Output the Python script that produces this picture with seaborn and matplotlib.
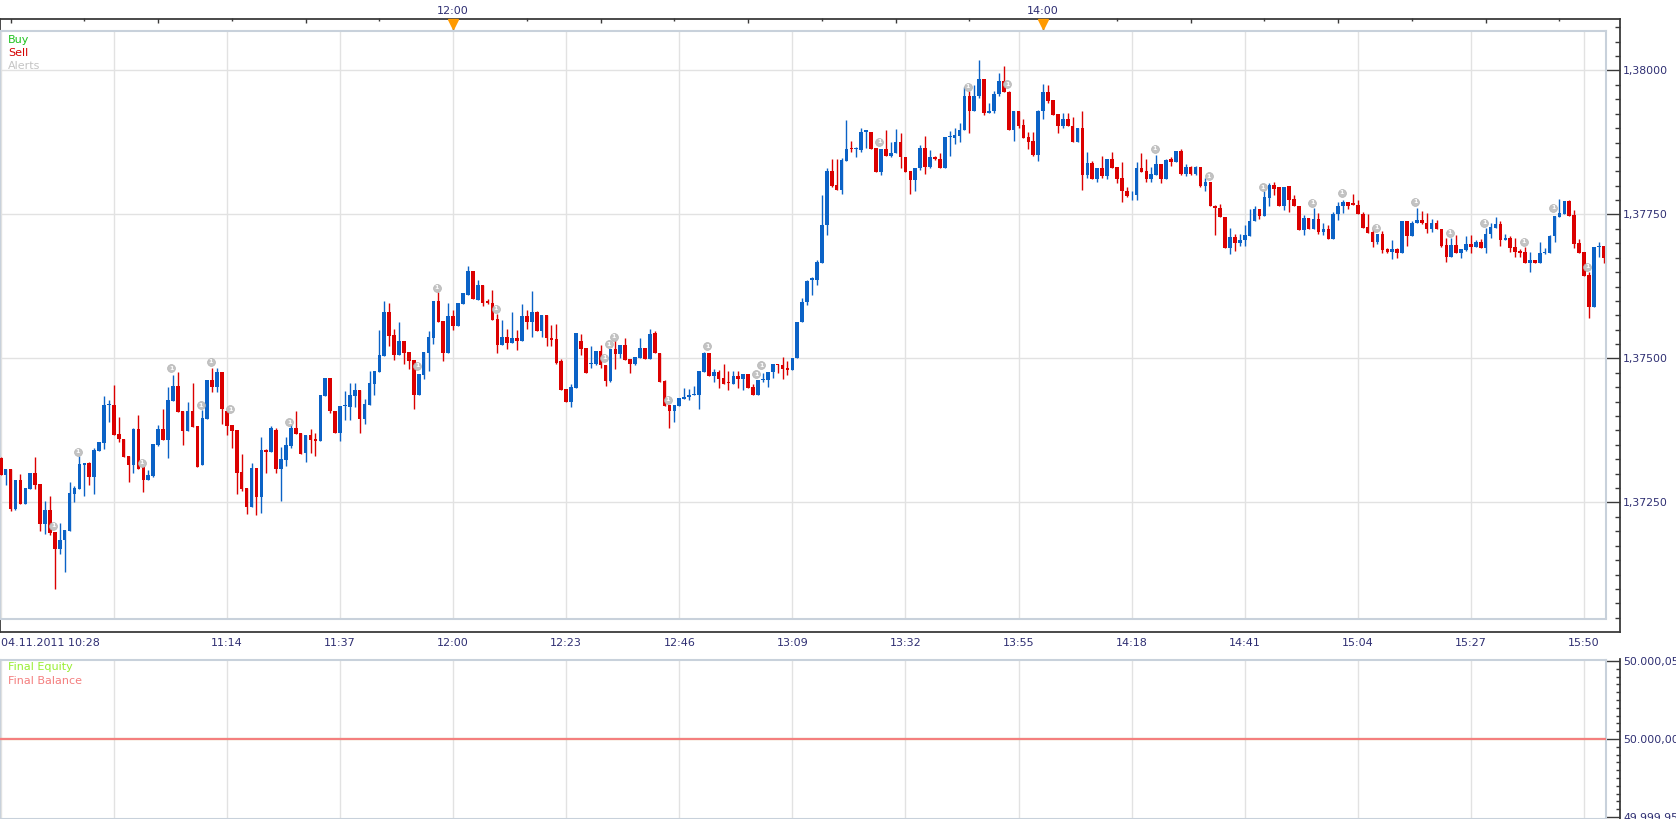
import numpy as np
import pandas as pd
import seaborn as sns
import matplotlib
matplotlib.use("Agg")
import matplotlib.pyplot as plt
from matplotlib.ticker import MultipleLocator, FixedLocator, FuncFormatter
import matplotlib.transforms as mtransforms

# 1 minute bars, 04.11.2011 10:28 -> 15:54 (one bar per minute)
opens = [
    1.37327, 1.37298, 1.37308, 1.37238, 1.37289, 1.37248, 1.37274, 1.37301, 1.37282, 1.37213,
    1.37237, 1.37199, 1.37169, 1.37185, 1.37200, 1.37264, 1.37274, 1.37315, 1.37319, 1.37295,
    1.37340, 1.37354, 1.37419, 1.37419, 1.37369, 1.37361, 1.37330, 1.37315, 1.37378, 1.37311,
    1.37289, 1.37296, 1.37350, 1.37377, 1.37358, 1.37427, 1.37452, 1.37409, 1.37374, 1.37409,
    1.37383, 1.37315, 1.37395, 1.37462, 1.37451, 1.37476, 1.37409, 1.37385, 1.37375, 1.37303,
    1.37275, 1.37243, 1.37310, 1.37260, 1.37341, 1.37337, 1.37375, 1.37308, 1.37324, 1.37348,
    1.37380, 1.37371, 1.37336, 1.37367, 1.37360, 1.37356, 1.37435, 1.37467, 1.37409, 1.37371,
    1.37418, 1.37416, 1.37435, 1.37445, 1.37395, 1.37420, 1.37456, 1.37477, 1.37505, 1.37580,
    1.37541, 1.37506, 1.37530, 1.37511, 1.37497, 1.37437, 1.37472, 1.37510, 1.37536, 1.37600,
    1.37565, 1.37510, 1.37574, 1.37557, 1.37594, 1.37611, 1.37652, 1.37602, 1.37628, 1.37599,
    1.37597, 1.37568, 1.37523, 1.37537, 1.37527, 1.37535, 1.37531, 1.37574, 1.37564, 1.37581,
    1.37548, 1.37576, 1.37535, 1.37534, 1.37495, 1.37447, 1.37425, 1.37449, 1.37530, 1.37519,
    1.37490, 1.37490, 1.37513, 1.37489, 1.37461, 1.37516, 1.37508, 1.37523, 1.37499, 1.37491,
    1.37501, 1.37518, 1.37499, 1.37544, 1.37509, 1.37461, 1.37419, 1.37409, 1.37418, 1.37430,
    1.37434, 1.37436, 1.37437, 1.37477, 1.37510, 1.37470, 1.37477, 1.37466, 1.37460, 1.37456,
    1.37470, 1.37465, 1.37473, 1.37450, 1.37437, 1.37462, 1.37463, 1.37476, 1.37491, 1.37489,
    1.37483, 1.37480, 1.37500, 1.37563, 1.37598, 1.37636, 1.37636, 1.37666, 1.37731, 1.37826,
    1.37801, 1.37793, 1.37843, 1.37865, 1.37864, 1.37862, 1.37894, 1.37894, 1.37866, 1.37823,
    1.37864, 1.37852, 1.37856, 1.37876, 1.37849, 1.37826, 1.37810, 1.37830, 1.37866, 1.37833,
    1.37849, 1.37846, 1.37830, 1.37885, 1.37883, 1.37886, 1.37896, 1.37956, 1.37930, 1.37955,
    1.37985, 1.37926, 1.37929, 1.37959, 1.37982, 1.37963, 1.37896, 1.37930, 1.37905, 1.37884,
    1.37878, 1.37853, 1.37929, 1.37962, 1.37949, 1.37924, 1.37904, 1.37916, 1.37904, 1.37875,
    1.37901, 1.37818, 1.37839, 1.37812, 1.37830, 1.37816, 1.37847, 1.37832, 1.37813, 1.37791,
    1.37785, 1.37783, 1.37831, 1.37825, 1.37812, 1.37818, 1.37838, 1.37812, 1.37846, 1.37842,
    1.37861, 1.37820, 1.37832, 1.37820, 1.37832, 1.37800, 1.37807, 1.37765, 1.37762, 1.37746,
    1.37692, 1.37711, 1.37701, 1.37705, 1.37713, 1.37738, 1.37760, 1.37748, 1.37779, 1.37801,
    1.37798, 1.37765, 1.37799, 1.37777, 1.37765, 1.37723, 1.37744, 1.37725, 1.37742, 1.37720,
    1.37725, 1.37707, 1.37750, 1.37764, 1.37771, 1.37770, 1.37767, 1.37750, 1.37729, 1.37720,
    1.37703, 1.37716, 1.37690, 1.37685, 1.37690, 1.37683, 1.37738, 1.37713, 1.37735, 1.37740,
    1.37735, 1.37725, 1.37735, 1.37725, 1.37697, 1.37677, 1.37697, 1.37684, 1.37688, 1.37698,
    1.37694, 1.37702, 1.37692, 1.37716, 1.37727, 1.37734, 1.37705, 1.37710, 1.37693, 1.37687,
    1.37685, 1.37666, 1.37671, 1.37666, 1.37683, 1.37684, 1.37712, 1.37746, 1.37751, 1.37773,
    1.37749, 1.37700, 1.37685, 1.37645, 1.37590, 1.37693, 1.37695,
]
highs = [
    1.37329, 1.37308, 1.37308, 1.37289, 1.37299, 1.37275, 1.37301, 1.37329, 1.37282, 1.37253,
    1.37262, 1.37199, 1.37214, 1.37202, 1.37285, 1.37279, 1.37330, 1.37319, 1.37321, 1.37345,
    1.37355, 1.37435, 1.37428, 1.37454, 1.37399, 1.37361, 1.37330, 1.37380, 1.37402, 1.37311,
    1.37306, 1.37351, 1.37385, 1.37412, 1.37450, 1.37472, 1.37477, 1.37409, 1.37425, 1.37457,
    1.37383, 1.37410, 1.37462, 1.37484, 1.37484, 1.37476, 1.37409, 1.37385, 1.37375, 1.37334,
    1.37275, 1.37318, 1.37310, 1.37364, 1.37343, 1.37383, 1.37379, 1.37346, 1.37364, 1.37387,
    1.37409, 1.37371, 1.37367, 1.37378, 1.37370, 1.37437, 1.37467, 1.37467, 1.37409, 1.37418,
    1.37444, 1.37457, 1.37458, 1.37445, 1.37429, 1.37478, 1.37478, 1.37550, 1.37600, 1.37597,
    1.37551, 1.37563, 1.37530, 1.37511, 1.37497, 1.37473, 1.37511, 1.37548, 1.37600, 1.37615,
    1.37565, 1.37597, 1.37584, 1.37596, 1.37613, 1.37661, 1.37652, 1.37637, 1.37628, 1.37603,
    1.37619, 1.37577, 1.37567, 1.37552, 1.37581, 1.37549, 1.37594, 1.37584, 1.37617, 1.37583,
    1.37575, 1.37576, 1.37559, 1.37560, 1.37499, 1.37447, 1.37456, 1.37544, 1.37543, 1.37519,
    1.37522, 1.37513, 1.37524, 1.37489, 1.37516, 1.37536, 1.37523, 1.37535, 1.37499, 1.37502,
    1.37535, 1.37518, 1.37551, 1.37547, 1.37509, 1.37463, 1.37419, 1.37419, 1.37431, 1.37448,
    1.37447, 1.37452, 1.37478, 1.37512, 1.37510, 1.37481, 1.37480, 1.37491, 1.37478, 1.37478,
    1.37478, 1.37473, 1.37473, 1.37456, 1.37463, 1.37474, 1.37477, 1.37491, 1.37491, 1.37503,
    1.37496, 1.37500, 1.37564, 1.37605, 1.37637, 1.37642, 1.37671, 1.37784, 1.37831, 1.37846,
    1.37846, 1.37848, 1.37914, 1.37878, 1.37868, 1.37900, 1.37897, 1.37894, 1.37866, 1.37864,
    1.37897, 1.37876, 1.37898, 1.37891, 1.37849, 1.37826, 1.37831, 1.37871, 1.37886, 1.37862,
    1.37852, 1.37856, 1.37884, 1.37895, 1.37901, 1.37908, 1.37972, 1.37964, 1.37974, 1.38018,
    1.37985, 1.37944, 1.37965, 1.37995, 1.38007, 1.37965, 1.37930, 1.37930, 1.37916, 1.37894,
    1.37894, 1.37931, 1.37977, 1.37975, 1.37949, 1.37924, 1.37926, 1.37927, 1.37919, 1.37900,
    1.37930, 1.37858, 1.37843, 1.37830, 1.37852, 1.37847, 1.37858, 1.37832, 1.37842, 1.37798,
    1.37790, 1.37842, 1.37856, 1.37846, 1.37833, 1.37853, 1.37838, 1.37847, 1.37849, 1.37861,
    1.37864, 1.37838, 1.37834, 1.37834, 1.37832, 1.37813, 1.37807, 1.37767, 1.37769, 1.37746,
    1.37727, 1.37717, 1.37716, 1.37731, 1.37760, 1.37764, 1.37760, 1.37790, 1.37805, 1.37807,
    1.37798, 1.37798, 1.37799, 1.37784, 1.37765, 1.37749, 1.37744, 1.37762, 1.37753, 1.37735,
    1.37732, 1.37755, 1.37772, 1.37776, 1.37771, 1.37786, 1.37776, 1.37754, 1.37750, 1.37726,
    1.37716, 1.37721, 1.37692, 1.37706, 1.37692, 1.37738, 1.37738, 1.37739, 1.37761, 1.37756,
    1.37752, 1.37743, 1.37740, 1.37725, 1.37709, 1.37710, 1.37714, 1.37690, 1.37713, 1.37714,
    1.37705, 1.37707, 1.37727, 1.37736, 1.37746, 1.37739, 1.37716, 1.37712, 1.37710, 1.37690,
    1.37693, 1.37685, 1.37671, 1.37703, 1.37691, 1.37714, 1.37748, 1.37777, 1.37773, 1.37775,
    1.37758, 1.37707, 1.37685, 1.37651, 1.37693, 1.37703, 1.37695,
]
lows = [
    1.37297, 1.37281, 1.37236, 1.37237, 1.37248, 1.37247, 1.37273, 1.37274, 1.37201, 1.37195,
    1.37194, 1.37099, 1.37160, 1.37130, 1.37200, 1.37251, 1.37274, 1.37261, 1.37281, 1.37264,
    1.37340, 1.37343, 1.37389, 1.37367, 1.37355, 1.37329, 1.37286, 1.37302, 1.37308, 1.37268,
    1.37289, 1.37295, 1.37348, 1.37358, 1.37327, 1.37427, 1.37407, 1.37350, 1.37374, 1.37381,
    1.37311, 1.37315, 1.37395, 1.37441, 1.37441, 1.37386, 1.37367, 1.37344, 1.37264, 1.37270,
    1.37230, 1.37243, 1.37229, 1.37232, 1.37301, 1.37337, 1.37302, 1.37253, 1.37314, 1.37345,
    1.37369, 1.37335, 1.37321, 1.37336, 1.37330, 1.37356, 1.37435, 1.37406, 1.37371, 1.37356,
    1.37394, 1.37394, 1.37416, 1.37371, 1.37387, 1.37420, 1.37437, 1.37477, 1.37505, 1.37522,
    1.37497, 1.37506, 1.37490, 1.37482, 1.37412, 1.37437, 1.37464, 1.37479, 1.37525, 1.37564,
    1.37496, 1.37510, 1.37549, 1.37557, 1.37594, 1.37611, 1.37603, 1.37602, 1.37592, 1.37594,
    1.37567, 1.37510, 1.37523, 1.37516, 1.37527, 1.37515, 1.37531, 1.37551, 1.37538, 1.37548,
    1.37538, 1.37521, 1.37521, 1.37490, 1.37445, 1.37425, 1.37415, 1.37449, 1.37506, 1.37475,
    1.37483, 1.37489, 1.37483, 1.37453, 1.37460, 1.37482, 1.37500, 1.37497, 1.37475, 1.37489,
    1.37500, 1.37499, 1.37499, 1.37509, 1.37460, 1.37418, 1.37380, 1.37390, 1.37418, 1.37430,
    1.37428, 1.37436, 1.37412, 1.37477, 1.37470, 1.37460, 1.37449, 1.37456, 1.37445, 1.37456,
    1.37449, 1.37445, 1.37448, 1.37436, 1.37437, 1.37460, 1.37451, 1.37467, 1.37474, 1.37465,
    1.37471, 1.37480, 1.37500, 1.37563, 1.37593, 1.37610, 1.37628, 1.37666, 1.37714, 1.37798,
    1.37793, 1.37786, 1.37843, 1.37859, 1.37850, 1.37859, 1.37866, 1.37864, 1.37823, 1.37819,
    1.37852, 1.37850, 1.37856, 1.37831, 1.37823, 1.37785, 1.37791, 1.37828, 1.37820, 1.37831,
    1.37845, 1.37830, 1.37830, 1.37852, 1.37872, 1.37875, 1.37896, 1.37891, 1.37930, 1.37952,
    1.37923, 1.37926, 1.37927, 1.37956, 1.37962, 1.37896, 1.37878, 1.37900, 1.37883, 1.37864,
    1.37852, 1.37843, 1.37916, 1.37944, 1.37923, 1.37891, 1.37900, 1.37903, 1.37875, 1.37875,
    1.37793, 1.37813, 1.37812, 1.37807, 1.37813, 1.37812, 1.37831, 1.37804, 1.37772, 1.37781,
    1.37776, 1.37776, 1.37824, 1.37807, 1.37807, 1.37818, 1.37805, 1.37812, 1.37834, 1.37842,
    1.37819, 1.37817, 1.37819, 1.37819, 1.37798, 1.37790, 1.37764, 1.37714, 1.37745, 1.37692,
    1.37682, 1.37687, 1.37696, 1.37696, 1.37713, 1.37738, 1.37742, 1.37748, 1.37765, 1.37783,
    1.37765, 1.37758, 1.37755, 1.37764, 1.37723, 1.37714, 1.37725, 1.37725, 1.37716, 1.37714,
    1.37707, 1.37707, 1.37740, 1.37753, 1.37759, 1.37766, 1.37750, 1.37727, 1.37718, 1.37694,
    1.37699, 1.37684, 1.37684, 1.37673, 1.37675, 1.37683, 1.37696, 1.37713, 1.37735, 1.37734,
    1.37718, 1.37720, 1.37724, 1.37694, 1.37668, 1.37677, 1.37684, 1.37674, 1.37687, 1.37684,
    1.37694, 1.37692, 1.37684, 1.37709, 1.37727, 1.37696, 1.37705, 1.37685, 1.37676, 1.37676,
    1.37666, 1.37651, 1.37665, 1.37666, 1.37681, 1.37684, 1.37703, 1.37746, 1.37751, 1.37748,
    1.37691, 1.37684, 1.37644, 1.37571, 1.37590, 1.37677, 1.37665,
]
closes = [
    1.37298, 1.37308, 1.37238, 1.37289, 1.37248, 1.37275, 1.37301, 1.37281, 1.37213, 1.37237,
    1.37197, 1.37169, 1.37185, 1.37202, 1.37266, 1.37275, 1.37317, 1.37318, 1.37295, 1.37341,
    1.37355, 1.37419, 1.37420, 1.37367, 1.37360, 1.37329, 1.37315, 1.37378, 1.37308, 1.37289,
    1.37297, 1.37351, 1.37377, 1.37358, 1.37428, 1.37452, 1.37407, 1.37374, 1.37409, 1.37381,
    1.37311, 1.37396, 1.37462, 1.37451, 1.37476, 1.37412, 1.37383, 1.37374, 1.37301, 1.37273,
    1.37243, 1.37310, 1.37260, 1.37341, 1.37338, 1.37379, 1.37308, 1.37325, 1.37350, 1.37380,
    1.37369, 1.37335, 1.37367, 1.37358, 1.37357, 1.37437, 1.37467, 1.37408, 1.37371, 1.37418,
    1.37419, 1.37437, 1.37445, 1.37395, 1.37421, 1.37457, 1.37478, 1.37506, 1.37580, 1.37539,
    1.37506, 1.37530, 1.37510, 1.37496, 1.37437, 1.37473, 1.37511, 1.37537, 1.37600, 1.37564,
    1.37510, 1.37574, 1.37557, 1.37596, 1.37613, 1.37652, 1.37603, 1.37628, 1.37597, 1.37596,
    1.37567, 1.37523, 1.37538, 1.37527, 1.37535, 1.37531, 1.37574, 1.37564, 1.37581, 1.37548,
    1.37575, 1.37535, 1.37532, 1.37493, 1.37445, 1.37425, 1.37450, 1.37544, 1.37517, 1.37475,
    1.37492, 1.37513, 1.37489, 1.37461, 1.37516, 1.37508, 1.37523, 1.37497, 1.37491, 1.37502,
    1.37518, 1.37499, 1.37543, 1.37509, 1.37460, 1.37418, 1.37409, 1.37419, 1.37431, 1.37434,
    1.37437, 1.37438, 1.37478, 1.37510, 1.37470, 1.37477, 1.37465, 1.37456, 1.37458, 1.37470,
    1.37465, 1.37473, 1.37448, 1.37437, 1.37463, 1.37465, 1.37477, 1.37491, 1.37489, 1.37482,
    1.37480, 1.37500, 1.37564, 1.37598, 1.37635, 1.37639, 1.37668, 1.37732, 1.37826, 1.37799,
    1.37793, 1.37845, 1.37864, 1.37864, 1.37866, 1.37894, 1.37896, 1.37864, 1.37823, 1.37864,
    1.37852, 1.37857, 1.37876, 1.37849, 1.37824, 1.37810, 1.37831, 1.37866, 1.37833, 1.37849,
    1.37846, 1.37830, 1.37884, 1.37886, 1.37888, 1.37897, 1.37956, 1.37930, 1.37956, 1.37985,
    1.37926, 1.37930, 1.37960, 1.37982, 1.37962, 1.37896, 1.37930, 1.37904, 1.37883, 1.37876,
    1.37853, 1.37930, 1.37962, 1.37947, 1.37923, 1.37904, 1.37916, 1.37903, 1.37875, 1.37900,
    1.37818, 1.37840, 1.37812, 1.37830, 1.37816, 1.37847, 1.37831, 1.37812, 1.37790, 1.37782,
    1.37786, 1.37831, 1.37824, 1.37812, 1.37820, 1.37838, 1.37812, 1.37845, 1.37842, 1.37861,
    1.37820, 1.37832, 1.37820, 1.37832, 1.37800, 1.37807, 1.37764, 1.37761, 1.37745, 1.37692,
    1.37711, 1.37701, 1.37706, 1.37714, 1.37739, 1.37760, 1.37748, 1.37781, 1.37801, 1.37795,
    1.37765, 1.37798, 1.37776, 1.37764, 1.37723, 1.37744, 1.37725, 1.37742, 1.37720, 1.37725,
    1.37707, 1.37751, 1.37765, 1.37771, 1.37765, 1.37767, 1.37750, 1.37727, 1.37718, 1.37703,
    1.37716, 1.37688, 1.37685, 1.37690, 1.37683, 1.37738, 1.37713, 1.37735, 1.37740, 1.37735,
    1.37725, 1.37735, 1.37724, 1.37695, 1.37677, 1.37697, 1.37684, 1.37690, 1.37698, 1.37694,
    1.37702, 1.37692, 1.37717, 1.37728, 1.37734, 1.37705, 1.37710, 1.37692, 1.37685, 1.37684,
    1.37666, 1.37671, 1.37666, 1.37684, 1.37685, 1.37713, 1.37748, 1.37753, 1.37773, 1.37748,
    1.37699, 1.37684, 1.37644, 1.37590, 1.37693, 1.37695, 1.37674,
]

# alert markers: bar index and price
alert_bars = [11, 16, 29, 35, 41, 43, 47, 59, 85, 89, 101, 123, 124, 125, 136, 144, 154,
              155, 179, 197, 205, 235, 246, 257, 267, 273, 280, 288, 295, 302, 310, 316, 323]
alert_prices = [1.37210, 1.37338, 1.37319, 1.37483, 1.37419, 1.37494, 1.37412, 1.37389,
                1.37487, 1.37623, 1.37586, 1.37501, 1.37525, 1.37538, 1.37428, 1.37521,
                1.37473, 1.37488, 1.37876, 1.37972, 1.37976, 1.37864, 1.37816, 1.37797,
                1.37770, 1.37788, 1.37727, 1.37772, 1.37718, 1.37736, 1.37703, 1.37762,
                1.37659]

# bottom time axis (minutes after 10:28)
time_ticks = [0, 23, 46, 69, 92, 115, 138, 161, 184, 207, 230, 253, 276, 299, 322]
time_labels = ["04.11.2011 10:28", "", "11:14", "11:37", "12:00", "12:23", "12:46", "13:09",
               "13:32", "13:55", "14:18", "14:41", "15:04", "15:27", "15:50"]
# top axis: labelled hours, half hours, quarter hours
hour_ticks = [92, 212]
hour_labels = ["12:00", "14:00"]
half_hour_ticks = [2, 32, 62, 122, 152, 182, 242, 272, 302]
quarter_ticks = [17, 47, 77, 107, 137, 167, 197, 227, 257, 287, 317]

final_equity = 50000.00
final_balance = 50000.00

BLUE = "#0b62c6"
RED = "#db0000"
NAVY = "#2e2e72"
GRID = "#e2e2e2"
BORDER = "#c8d1db"
AXIS = "#3a3a3a"

sns.set_theme(style="white")
plt.rcParams["font.family"] = ["DejaVu Sans"]

W, H, DPI = 1676, 819, 100
fig = plt.figure(figsize=(W / DPI, H / DPI), dpi=DPI)
fig.patch.set_facecolor("white")


def box(l, t, r, b):
    return [l / W, 1 - b / H, (r - l) / W, (b - t) / H]


PX_PER_BAR = 4.917
X0 = -0.15
PRICE_PER_PX = 0.0025 / 144


def price_at(y):
    return 1.38 - (y - 70.5) * PRICE_PER_PX


def value_at(y):
    return 50000.0 + (739 - y) / 78 * 0.05


def px(v):
    return v * 0.72


# ---- main price panel: outer frame with the axes, inner plot area
ax_o = fig.add_axes(box(0, 18.5, 1619.5, 632))
ax_o.set_facecolor("white")
ax_o.set_xlim(X0, X0 + 1619.5 / PX_PER_BAR)
ax_o.set_ylim(price_at(632), price_at(18.5))
for s in ax_o.spines.values():
    s.set_color(AXIS)
    s.set_linewidth(1.3)
ax_o.yaxis.tick_right()
ax_o.yaxis.set_major_locator(MultipleLocator(0.0025))
ax_o.yaxis.set_minor_locator(MultipleLocator(0.00025))
ax_o.yaxis.set_major_formatter(FuncFormatter(lambda v, p: f"{v:.5f}".replace(".", ",")))
ax_o.tick_params(axis="y", which="major", direction="in", length=px(14), width=1,
                 color=AXIS, pad=2.5, labelsize=7.8, labelcolor=NAVY)
ax_o.tick_params(axis="y", which="minor", direction="in", length=px(5), width=1, color=AXIS)
ax_o.set_xticks(time_ticks, time_labels)
ax_o.xaxis.set_minor_locator(MultipleLocator(23 / 8))
ax_o.tick_params(axis="x", which="major", direction="in", length=px(13.5), width=1,
                 color=AXIS, pad=4, labelsize=8, labelcolor=NAVY)
ax_o.tick_params(axis="x", which="minor", direction="in", length=px(6), width=1, color=AXIS)
ax_o.xaxis.get_majorticklabels()[0].set_horizontalalignment("left")

top = ax_o.secondary_xaxis("top")
top.set_xticks(hour_ticks, hour_labels)
top.xaxis.set_minor_locator(FixedLocator(half_hour_ticks))
top.tick_params(axis="x", which="major", direction="in", length=px(12), width=1,
                color=AXIS, pad=1.5, labelsize=8, labelcolor=NAVY)
top.tick_params(axis="x", which="minor", direction="in", length=px(5), width=1, color=AXIS)
for s in top.spines.values():
    s.set_visible(False)
top_q = ax_o.secondary_xaxis("top")
top_q.set_xticks(quarter_ticks, [""] * len(quarter_ticks))
top_q.tick_params(axis="x", which="major", direction="in", length=px(3), width=1, color=AXIS)
for s in top_q.spines.values():
    s.set_visible(False)

tri = mtransforms.blended_transform_factory(ax_o.transData, ax_o.transAxes)
ax_o.plot(hour_ticks, [1 - 5 / 613.5] * len(hour_ticks), linestyle="none", marker="v",
          markersize=6.8, color="#ff9a00", transform=tri, clip_on=False, zorder=5)

ax = fig.add_axes(box(0, 31, 1605.5, 618.5))
ax.set_facecolor("white")
ax.set_xlim(X0, X0 + 1605.5 / PX_PER_BAR)
ax.set_ylim(price_at(618.5), price_at(31))
ax.xaxis.set_major_locator(MultipleLocator(23))
ax.yaxis.set_major_locator(MultipleLocator(0.0025))
ax.grid(True, color=GRID, linewidth=1)
ax.set_axisbelow(True)
ax.tick_params(length=0, labelbottom=False, labelleft=False)
for s in ax.spines.values():
    s.set_color(BORDER)
    s.set_linewidth(1.5)

bars = pd.DataFrame({"open": opens, "high": highs, "low": lows, "close": closes})
bars["bar"] = np.arange(len(bars))
up = bars["close"] >= bars["open"]
colors = np.where(up, BLUE, RED)
ax.vlines(bars["bar"], bars["low"], bars["high"], colors=colors, linewidth=1.0, zorder=2)
body = np.maximum((bars["close"] - bars["open"]).abs(), 1.3e-5)
ax.bar(bars["bar"], body, bottom=bars[["open", "close"]].min(axis=1), width=0.74,
       color=colors, linewidth=0, zorder=3)

alerts = pd.DataFrame({"bar": np.array(alert_bars) - 0.3, "price": alert_prices})
sns.scatterplot(data=alerts, x="bar", y="price", ax=ax, s=32, color="#c3c3c3",
                edgecolor="#b3b3b3", linewidth=0.5, zorder=4, legend=False)
for b, p in zip(alerts["bar"], alerts["price"]):
    ax.text(b, p, "1", fontsize=4.5, color="white", ha="center", va="center",
            fontweight="bold", zorder=5)
ax.set_xlabel("")
ax.set_ylabel("")

fig.text(8 / W, 1 - 43 / H, "Buy", color="#1fc21f", fontsize=8, va="baseline")
fig.text(8 / W, 1 - 56 / H, "Sell", color="#d40000", fontsize=8, va="baseline")
fig.text(8 / W, 1 - 69 / H, "Alerts", color="#c4c4c4", fontsize=8, va="baseline")

# ---- equity / balance panel
ax_lo = fig.add_axes(box(0, 659, 1619.5, 819))
ax_lo.set_facecolor("white")
ax_lo.set_xlim(X0, X0 + 1619.5 / PX_PER_BAR)
ax_lo.set_ylim(value_at(819), value_at(659))
for name, s in ax_lo.spines.items():
    s.set_visible(name == "right")
    s.set_color(AXIS)
    s.set_linewidth(1.3)
ax_lo.set_xticks([])
ax_lo.yaxis.tick_right()
ax_lo.yaxis.set_major_locator(MultipleLocator(0.05))
ax_lo.yaxis.set_minor_locator(MultipleLocator(0.005))
ax_lo.yaxis.set_major_formatter(FuncFormatter(
    lambda v, p: f"{v:,.2f}".replace(",", "X").replace(".", ",").replace("X", ".")))
ax_lo.tick_params(axis="y", which="major", direction="in", length=px(14), width=1,
                  color=AXIS, pad=2.5, labelsize=7.8, labelcolor=NAVY)
ax_lo.tick_params(axis="y", which="minor", direction="in", length=px(4), width=1, color=AXIS)

ax_l = fig.add_axes(box(0, 659.5, 1605.5, 818.5))
ax_l.set_facecolor("white")
ax_l.set_xlim(X0, X0 + 1605.5 / PX_PER_BAR)
ax_l.set_ylim(value_at(818.5), value_at(659.5))
ax_l.xaxis.set_major_locator(MultipleLocator(23))
ax_l.grid(True, axis="x", color=GRID, linewidth=1)
ax_l.set_axisbelow(True)
ax_l.tick_params(length=0, labelbottom=False, labelleft=False)
for s in ax_l.spines.values():
    s.set_color(BORDER)
    s.set_linewidth(1.5)
ax_l.axhline(final_equity, color="#9cf53c", linewidth=1.5, zorder=2)
ax_l.axhline(final_balance, color="#f47f7f", linewidth=1.6, zorder=3)

fig.text(8 / W, 1 - 670.5 / H, "Final Equity", color="#99ee33", fontsize=8, va="baseline")
fig.text(8 / W, 1 - 684 / H, "Final Balance", color="#f47f7f", fontsize=8, va="baseline")

fig.savefig("out.png", dpi=DPI, facecolor="white")
